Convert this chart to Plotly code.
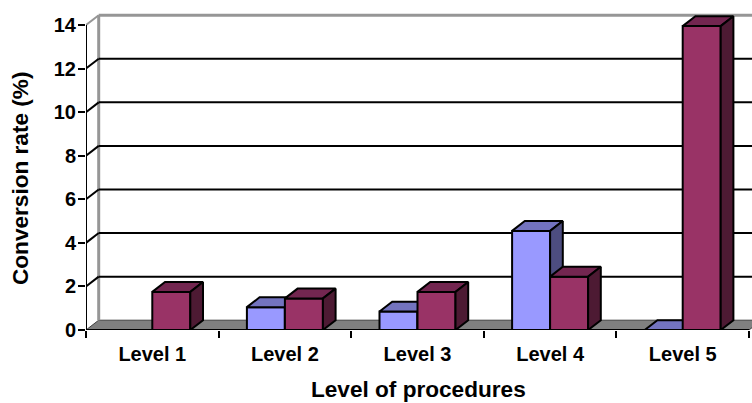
import plotly.graph_objects as go

categories = ["Level 1", "Level 2", "Level 3", "Level 4", "Level 5"]
series_a = [None, 1.05, 0.85, 4.55, 0]
series_b = [1.75, 1.45, 1.75, 2.45, 13.95]
y_ticks = [0, 2, 4, 6, 8, 10, 12, 14]

W, H = 752, 403
ML, MT, MB = 86, 8, 73
PX_X = 132.6
PX_Y = 305 / 14
DX = 12.7 / PX_X
DY = 9.8 / PX_Y
BAR_W = 38 / PX_X
X_MAX = (W - ML) / PX_X
Y_MAX = (H - MB - MT) / PX_Y
FONT = "Liberation Sans"


def add_series(fig, vals, offset, front, top, side, xa, ya, name):
    xs = [i + 0.5 + offset for i in range(len(vals))]
    for x, v in zip(xs, vals):
        if v is None:
            continue
        x0, x1 = x - BAR_W / 2, x + BAR_W / 2
        fig.add_trace(go.Scatter(x=[x0, x1, x1 + DX, x0 + DX, x0], y=[v, v, v + DY, v + DY, v], mode="lines",
                                 fill="toself", fillcolor=top, line=dict(color="black", width=2),
                                 xaxis=xa, yaxis=ya, hoverinfo="skip", showlegend=False))
        if v > 0:
            fig.add_trace(go.Scatter(x=[x1, x1 + DX, x1 + DX, x1, x1], y=[0, DY, v + DY, v, 0], mode="lines",
                                     fill="toself", fillcolor=side, line=dict(color="black", width=2),
                                     xaxis=xa, yaxis=ya, hoverinfo="skip", showlegend=False))
    fig.add_trace(go.Bar(x=xs, y=vals, width=BAR_W, name=name,
                         marker=dict(color=front, line=dict(color="black", width=2)),
                         xaxis=xa, yaxis=ya, showlegend=False))


fig = go.Figure()
add_series(fig, series_a, -BAR_W / 2, "#9999FF", "#7373BF", "#4D4D80", "x", "y", "A")
add_series(fig, series_b, BAR_W / 2, "#993366", "#732650", "#4D1A33", "x2", "y2", "B")

# axis lines that stop where the reference's do
fig.add_trace(go.Scatter(x=[0, 0], y=[0, 14], mode="lines", line=dict(color="black", width=2), cliponaxis=False,
                         xaxis="x2", yaxis="y2", hoverinfo="skip", showlegend=False))
fig.add_trace(go.Scatter(x=[0, 5], y=[0, 0], mode="lines", line=dict(color="black", width=2), cliponaxis=False,
                         xaxis="x2", yaxis="y2", hoverinfo="skip", showlegend=False))

shapes = [
    dict(type="path", layer="below", xref="x", yref="y", fillcolor="#808080",
         path=f"M 0 0 L {DX} {DY} L {5 + DX} {DY} L 5 0 Z", line=dict(color="#404040", width=1)),
    dict(type="line", layer="below", xref="x", yref="y", x0=DX, x1=DX, y0=DY, y1=14 + DY, line=dict(color="#969696", width=3)),
    dict(type="line", layer="below", xref="x", yref="y", x0=DX, x1=X_MAX + 1, y0=14 + DY, y1=14 + DY, line=dict(color="#969696", width=3)),
    dict(type="line", layer="below", xref="x", yref="y", x0=0, x1=DX, y0=14, y1=14 + DY, line=dict(color="#969696", width=2)),
]
for t in y_ticks[1:-1]:
    shapes.append(dict(type="line", layer="below", xref="x", yref="y", x0=0, x1=DX, y0=t, y1=t + DY, line=dict(color="black", width=2)))
    shapes.append(dict(type="line", layer="below", xref="x", yref="y", x0=DX, x1=X_MAX + 1, y0=t + DY, y1=t + DY, line=dict(color="black", width=2)))

fig.update_layout(
    width=W, height=H, margin=dict(l=ML, r=0, t=MT, b=MB, pad=0), autosize=False,
    paper_bgcolor="white", plot_bgcolor="white", barmode="overlay",
    font=dict(family=FONT, color="black"), shapes=shapes,
    xaxis=dict(range=[0, X_MAX], tickmode="array", tickvals=[i + 0.5 for i in range(5)], ticktext=categories,
               ticks="", ticklabelstandoff=10, showgrid=False, zeroline=False, showline=False,
               tickfont=dict(size=20, family=FONT, weight="bold"),
               minor=dict(tickmode="array", tickvals=list(range(6)), ticks="outside", ticklen=7, tickwidth=2, tickcolor="black")),
    yaxis=dict(range=[0, Y_MAX], tickmode="array", tickvals=y_ticks, ticks="outside", ticklen=7, tickwidth=2, tickcolor="black",
               ticklabelstandoff=-2, showgrid=False, zeroline=False, showline=False,
               tickfont=dict(size=20, family=FONT, weight="bold")),
    xaxis2=dict(range=[0, X_MAX], overlaying="x", visible=False),
    yaxis2=dict(range=[0, Y_MAX], overlaying="y", visible=False),
    annotations=[
        dict(text="<b>Conversion rate (%)</b>", textangle=-90, xref="paper", yref="paper", x=0, y=0.5,
             xanchor="center", yanchor="middle", xshift=-66, yshift=-10, showarrow=False,
             font=dict(size=22.6, family=FONT)),
        dict(text="<b>Level of procedures</b>", xref="paper", yref="paper", x=0.5, y=0,
             xanchor="center", yanchor="middle", xshift=-1, yshift=-59, showarrow=False,
             font=dict(size=22.6, family=FONT)),
    ],
)
fig.write_html("out.html", config=dict(displayModeBar=False),
               post_script="document.body.style.margin='0';document.body.style.overflow='hidden';")
